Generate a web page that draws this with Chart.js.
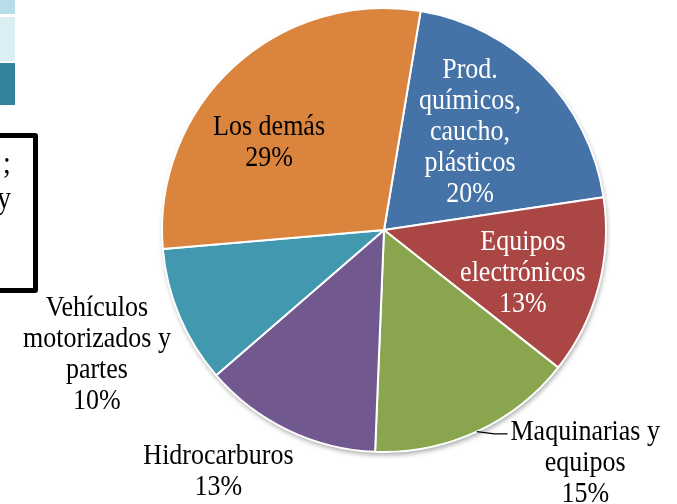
<!DOCTYPE html>
<html>
<head>
<meta charset="utf-8">
<script src="https://cdn.jsdelivr.net/npm/chart.js@4.4.1/dist/chart.umd.min.js"></script>
<style>
	html, body { margin: 0; padding: 0; background: #fff; }
	#wrap { position: relative; width: 677px; height: 504px; overflow: hidden; }
	#pie { position: absolute; left: 0; top: 0; }
	.sw { position: absolute; left: 0; width: 15px; }
	#box { position: absolute; left: -20px; top: 133px; width: 48px; height: 150px;
		border: 5px solid #000; border-radius: 3px; }
	.frag { position: absolute; font-family: "Liberation Serif", "Times New Roman", serif;
		font-size: 28px; color: #000; line-height: 1; transform: scaleY(1.1); }
</style>
</head>
<body>
<div id="wrap">
	<canvas id="pie" width="677" height="504"></canvas>
	<div class="sw" style="top:0;height:14px;background:#b7dde8"></div>
	<div class="sw" style="top:17px;height:44px;background:#daeef3"></div>
	<div class="sw" style="top:63px;height:42px;background:#31849b"></div>
	<div id="box"></div>
	<div class="frag" style="left:3px;top:149px">;</div>
	<div class="frag" style="left:-3px;top:184px">y</div>
</div>
<script>
var sectors = [
	["Prod.", "químicos,", "caucho,", "plásticos"],
	["Equipos", "electrónicos"],
	["Maquinarias y", "equipos"],
	["Hidrocarburos"],
	["Vehículos", "motorizados y", "partes"],
	["Los demás"]
];
var shares = [20, 13, 15, 13, 10, 29];
var sliceColors = ["#4573a7", "#aa4643", "#89a54e", "#71588f", "#4198af", "#db843d"];
var labelColors = ["#fff", "#fff", "#000", "#000", "#000", "#000"];

// label placement: angle tweak (deg) from slice middle, distance as share of radius
var labelPlace = [
	[-4.2, 0.587], [2.3, 0.655], [-16, 1.39], [8.7, 1.32], [-0.6, 1.41], [-10.1, 0.65]
];

var shadowPlugin = {
	id: "pieShadow",
	beforeDatasetsDraw: function(chart){
		var arc = chart.getDatasetMeta(0).data[0];
		if(!arc) return;
		var ctx = chart.ctx;
		ctx.save();
		ctx.shadowColor = "rgba(0,0,0,0.35)";
		ctx.shadowBlur = 5;
		ctx.shadowOffsetX = 1;
		ctx.shadowOffsetY = 3;
		ctx.beginPath();
		ctx.arc(arc.x, arc.y, arc.outerRadius, 0, Math.PI * 2);
		ctx.fillStyle = "#fff";
		ctx.fill();
		ctx.restore();
	}
};

var labelPlugin = {
	id: "pieLabels",
	afterDatasetsDraw: function(chart){
		var ctx = chart.ctx;
		var arcs = chart.getDatasetMeta(0).data;
		var lineH = 31;
		ctx.save();
		ctx.font = "26px 'Liberation Serif', 'Times New Roman', serif";
		ctx.textAlign = "center";
		ctx.textBaseline = "middle";
		arcs.forEach(function(arc, i){
			var mid = (arc.startAngle + arc.endAngle) / 2;
			var a = mid + labelPlace[i][0] * Math.PI / 180;
			var r = arc.outerRadius * labelPlace[i][1];
			var cx = arc.x + Math.cos(a) * r;
			var cy = arc.y + Math.sin(a) * r;
			var lines = sectors[i].concat([shares[i] + "%"]);
			var top = cy - (lines.length - 1) * lineH / 2;
			ctx.fillStyle = labelColors[i];
			lines.forEach(function(t, k){
				ctx.save();
				ctx.translate(cx, top + k * lineH);
				ctx.scale(1, 1.1);
				ctx.fillText(t, 0, 0);
				ctx.restore();
			});
			if(i == 2){
				// leader line for the outside label
				var w = ctx.measureText(lines[0]).width;
				var left = cx - w / 2;
				var sx = arc.x + Math.cos(mid) * arc.outerRadius;
				var sy = arc.y + Math.sin(mid) * arc.outerRadius;
				ctx.strokeStyle = "#000";
				ctx.lineWidth = 1.2;
				ctx.beginPath();
				ctx.moveTo(sx, sy);
				ctx.lineTo(left - 16, top + 1);
				ctx.lineTo(left - 3, top + 1);
				ctx.stroke();
			}
		});
		ctx.restore();
	}
};

new Chart("pie", {
	type: "pie",
	data: {
		labels: sectors.map(function(s){ return s.join(" "); }),
		datasets: [{
			data: shares,
			backgroundColor: sliceColors,
			borderColor: "#fff",
			borderWidth: 2
		}]
	},
	options: {
		responsive: false,
		animation: false,
		rotation: 9.5,
		radius: 222,
		layout: { padding: { left: 91, right: 0, top: 0, bottom: 44 } },
		plugins: {
			legend: { display: false },
			tooltip: { enabled: false }
		}
	},
	plugins: [shadowPlugin, labelPlugin]
});
</script>
</body>
</html>
